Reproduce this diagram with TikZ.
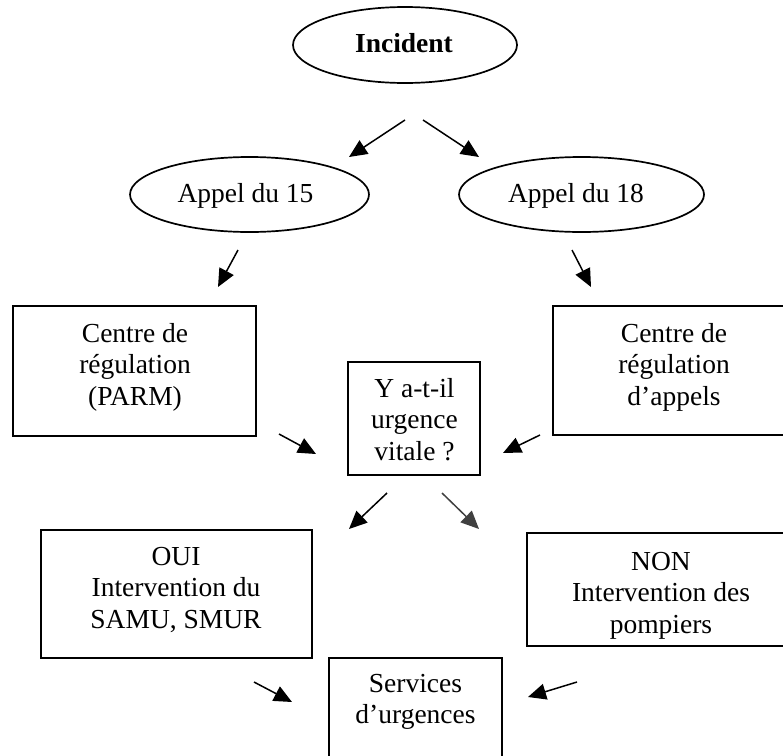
\documentclass[tikz,border=0pt]{standalone}
\usepackage{fontspec}
\setmainfont{Liberation Serif}
\usetikzlibrary{shapes.geometric,arrows.meta}
\definecolor{darkgrey}{HTML}{404040}
\newcommand{\mlines}[1]{\begin{tabular}[t]{@{}c@{}}#1\end{tabular}}
\tikzset{
  oval/.style={draw, ellipse, line width=1.7pt, inner sep=0pt},
  boxshape/.style={draw, rectangle, line width=1.6pt, inner sep=0pt},
  txt/.style={anchor=base, inner sep=0pt, font=\fontsize{27.5}{31.6}\selectfont},
  arr/.style={line width=1.5pt, -{Triangle[length=18pt,width=16pt]}},
}
\begin{document}
\begin{tikzpicture}[x=1pt,y=-1pt]
\useasboundingbox (0,0) rectangle (783,755);
\clip (0,0) rectangle (783,755);

% shapes
\node[oval, minimum width=224, minimum height=76] (inc) at (405,45) {};
\node[oval, minimum width=239, minimum height=75] (a15) at (249.5,194.5) {};
\node[oval, minimum width=245, minimum height=75] (a18) at (581.5,194.5) {};
\node[boxshape, minimum width=243, minimum height=130] (parm) at (134.5,371) {};
\node[boxshape, minimum width=242, minimum height=129] (capp) at (674,370.5) {};
\node[boxshape, minimum width=132, minimum height=113] (yq) at (414,418.5) {};
\node[boxshape, minimum width=271, minimum height=128] (oui) at (176.5,594) {};
\node[boxshape, minimum width=268, minimum height=113] (non) at (661,589.5) {};
\node[boxshape, minimum width=173, minimum height=132] (serv) at (415.5,724) {};

% texts
\node[txt] (incT) at (404,52) {\bfseries Incident};
\node[txt] (a15T) at (245.5,202) {Appel du 15};
\node[txt] (a18T) at (576,202) {Appel du 18};
\node[txt] (parmT) at (135,342) {\mlines{Centre de\\régulation\\(PARM)}};
\node[txt] (cappT) at (674,342) {\mlines{Centre de\\régulation\\d’appels}};
\node[txt] (yqT) at (414.5,397) {\mlines{Y a-t-il\\urgence\\vitale ?}};
\node[txt] (ouiT) at (176,565) {\mlines{OUI\\Intervention du\\SAMU, SMUR}};
\node[txt] (nonT) at (661,570) {\mlines{NON\\Intervention des\\pompiers}};
\node[txt] (servT) at (415.5,692) {\mlines{Services\\d’urgences}};

% arrow end points
\coordinate (p1s) at (405,120);  \coordinate (p1e) at (349,157);
\coordinate (p2s) at (423,120);  \coordinate (p2e) at (479,157);
\coordinate (p3s) at (238,250);  \coordinate (p3e) at (218,287);
\coordinate (p4s) at (572,250);  \coordinate (p4e) at (591,287);
\coordinate (p5s) at (279,434);  \coordinate (p5e) at (316,454);
\coordinate (p6s) at (540,435);  \coordinate (p6e) at (503,453);
\coordinate (p7s) at (387,493);  \coordinate (p7e) at (349,529);
\coordinate (p8s) at (442,493);  \coordinate (p8e) at (479,529);
\coordinate (p9s) at (254,682);  \coordinate (p9e) at (292,702);
\coordinate (p10s) at (577,682); \coordinate (p10e) at (528,697);

\draw[arr] (p1s) -- (p1e);
\draw[arr] (p2s) -- (p2e);
\draw[arr] (p3s) -- (p3e);
\draw[arr] (p4s) -- (p4e);
\draw[arr] (p5s) -- (p5e);
\draw[arr] (p6s) -- (p6e);
\draw[arr] (p7s) -- (p7e);
\draw[arr, darkgrey] (p8s) -- (p8e);
\draw[arr] (p9s) -- (p9e);
\draw[arr] (p10s) -- (p10e);
\end{tikzpicture}
\end{document}
